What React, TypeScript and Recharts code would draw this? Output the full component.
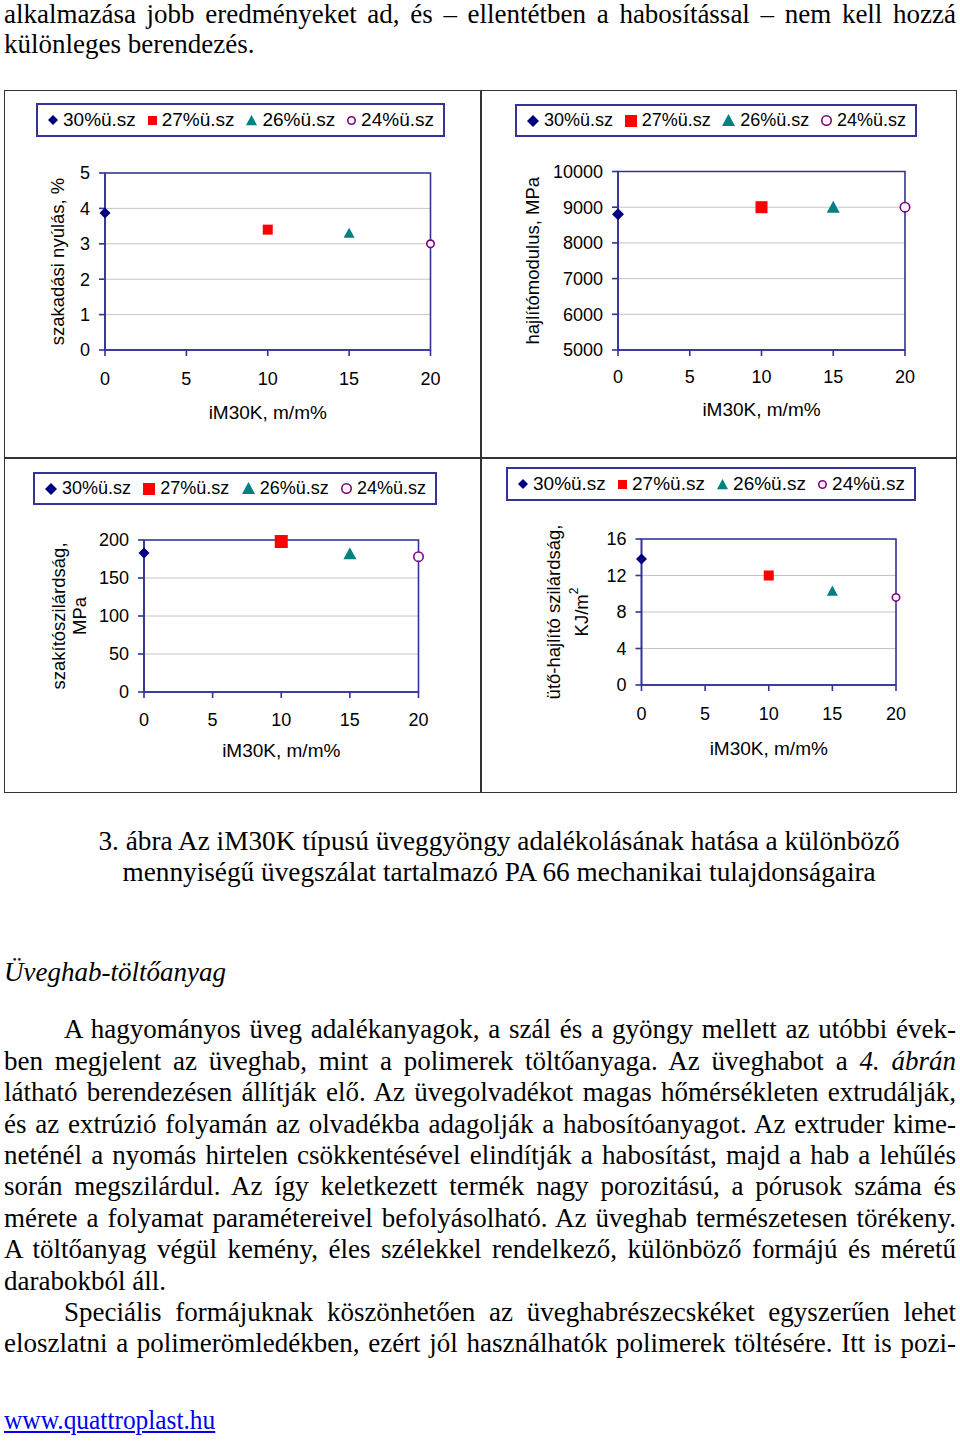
import React from 'react';
import { ScatterChart, Scatter, XAxis, YAxis, CartesianGrid, ReferenceArea, Legend } from 'recharts';

// series (glass fibre content) and iM30K bead content
const seriesNames = ['30%ü.sz', '27%ü.sz', '26%ü.sz', '24%ü.sz'];
const seriesColors = ['#000080', '#ff0000', '#008080', '#800080'];
const seriesShapes = ['diamond', 'square', 'triangle', 'circle'];
const iM30K = [0, 10, 15, 20];
const xTicks = [0, 5, 10, 15, 20];

// measured properties
const elongation = [3.87, 3.4, 3.3, 3.0];
const elongationTicks = [0, 1, 2, 3, 4, 5];
const flexModulus = [8800, 9000, 9000, 9000];
const flexTicks = [5000, 6000, 7000, 8000, 9000, 10000];
const tensile = [183, 198, 182, 178];
const tensileTicks = [0, 50, 100, 150, 200];
const impact = [13.8, 12.0, 10.3, 9.6];
const impactTicks = [0, 4, 8, 12, 16];

const topLines = [
  'alkalmazása jobb eredményeket ad, és – ellentétben a habosítással – nem kell hozzá',
  'különleges berendezés.',
];
const captionLines = [
  '3. ábra Az iM30K típusú üveggyöngy adalékolásának hatása a különböző',
  'mennyiségű üvegszálat tartalmazó PA 66 mechanikai tulajdonságaira',
];
const heading = 'Üveghab-töltőanyag';
const paragraphLines = [
  'A hagyományos üveg adalékanyagok, a szál és a gyöngy mellett az utóbbi évek-',
  'ben megjelent az üveghab, mint a polimerek töltőanyaga. Az üveghabot a 4. ábrán',
  'látható berendezésen állítják elő. Az üvegolvadékot magas hőmérsékleten extrudálják,',
  'és az extrúzió folyamán az olvadékba adagolják a habosítóanyagot. Az extruder kime-',
  'neténél a nyomás hirtelen csökkentésével elindítják a habosítást, majd a hab a lehűlés',
  'során megszilárdul. Az így keletkezett termék nagy porozitású, a pórusok száma és',
  'mérete a folyamat paramétereivel befolyásolható. Az üveghab természetesen törékeny.',
  'A töltőanyag végül kemény, éles szélekkel rendelkező, különböző formájú és méretű',
  'darabokból áll.',
  'Speciális formájuknak köszönhetően az üveghabrészecskéket egyszerűen lehet',
  'eloszlatni a polimerömledékben, ezért jól használhatók polimerek töltésére. Itt is pozi-',
];
const linkText = 'www.quattroplast.hu';

const AXIS = '#333399';
const SANS = '"Liberation Sans", Arial, sans-serif';
const SERIF = '"Liberation Serif", "Times New Roman", serif';
const Y_W = 60;
const X_H = 80;

function Marker({ kind, cx, cy, size, color }: any) {
  const h = size / 2;
  if (kind === 'diamond')
    return <polygon points={`${cx},${cy - h} ${cx + h},${cy} ${cx},${cy + h} ${cx - h},${cy}`} fill={color} />;
  if (kind === 'square') return <rect x={cx - h} y={cy - h} width={size} height={size} fill={color} />;
  if (kind === 'triangle')
    return <polygon points={`${cx},${cy - h} ${cx + h},${cy + h * 0.85} ${cx - h},${cy + h * 0.85}`} fill={color} />;
  return <circle cx={cx} cy={cy} r={h - 0.8} fill="#fff" stroke={color} strokeWidth={1.6} />;
}

interface PanelProps {
  values: number[];
  yTicks: number[];
  yTitle: { text: string; sup?: string; dx: number }[];
  box: { x: number; y: number; w: number; h: number };
  plot: { l: number; r: number; t: number; b: number };
  legend: { x: number; y: number; w: number; h: number; font: number; sym: number[] };
  marks: number[];
  xTickMargin: number;
  xTitleDy: number;
}

function Panel({ values, yTicks, yTitle, box, plot, legend, marks, xTickMargin, xTitleDy }: PanelProps) {
  const margin = {
    left: plot.l - box.x - Y_W,
    right: box.w - (plot.r - box.x),
    top: plot.t - box.y - legend.h,
    bottom: box.h - (plot.b - box.y) - X_H,
  };

  const renderLegend = () => (
    <div
      style={{
        boxSizing: 'border-box', width: legend.w, height: legend.h, border: `2px solid ${AXIS}`,
        display: 'flex', alignItems: 'center', justifyContent: 'space-between', padding: '0 9px',
        fontFamily: SANS, fontSize: legend.font, color: '#000', background: '#fff',
      }}
    >
      {seriesNames.map((name, i) => (
        <span key={name} style={{ display: 'flex', alignItems: 'center', gap: 4 }}>
          <svg width={legend.sym[i] + 2} height={legend.sym[i] + 2}>
            <Marker kind={seriesShapes[i]} cx={legend.sym[i] / 2 + 1} cy={legend.sym[i] / 2 + 1} size={legend.sym[i]} color={seriesColors[i]} />
          </svg>
          {name}
        </span>
      ))}
    </div>
  );

  const yLabel = (props: any) => {
    const vb = props.viewBox || {};
    const left = vb.x + vb.width;
    const cy = vb.y + vb.height / 2;
    return (
      <g>
        {yTitle.map((ln) => {
          const x = left + ln.dx;
          return (
            <text key={ln.text} x={x} y={cy} transform={`rotate(-90 ${x} ${cy})`} textAnchor="middle"
              dominantBaseline="central" fontFamily={SANS} fontSize={18.5} fill="#000">
              {ln.text}
              {ln.sup ? <tspan dy={-8} fontSize={12}>{ln.sup}</tspan> : null}
            </text>
          );
        })}
      </g>
    );
  };

  const xLabel = (props: any) => {
    const vb = props.viewBox || {};
    return (
      <text x={vb.x + vb.width / 2} y={vb.y + xTitleDy} textAnchor="middle" dominantBaseline="central"
        fontFamily={SANS} fontSize={19} fill="#000">
        iM30K, m/m%
      </text>
    );
  };

  const yMin = yTicks[0];
  const yMax = yTicks[yTicks.length - 1];

  return (
    <div style={{ position: 'absolute', left: box.x, top: box.y }}>
      <ScatterChart width={box.w} height={box.h} margin={margin}>
        <CartesianGrid vertical={false} stroke="#c4c4c4" strokeWidth={1} />
        <ReferenceArea x1={0} x2={20} y1={yMin} y2={yMax} fill="none" stroke={AXIS} strokeWidth={1.6} ifOverflow="visible" />
        <XAxis type="number" dataKey="x" domain={[0, 20]} ticks={xTicks} interval={0} height={X_H}
          axisLine={{ stroke: AXIS, strokeWidth: 1.6 }} tickLine={{ stroke: AXIS, strokeWidth: 1.6 }}
          tickSize={6} tickMargin={xTickMargin} tick={{ fill: '#000', fontSize: 18, fontFamily: SANS }}
          label={xLabel} />
        <YAxis type="number" dataKey="y" domain={[yMin, yMax]} ticks={yTicks} interval={0} width={Y_W}
          axisLine={{ stroke: AXIS, strokeWidth: 1.6 }} tickLine={{ stroke: AXIS, strokeWidth: 1.6 }}
          tickSize={6} tickMargin={9} tick={{ fill: '#000', fontSize: 18, fontFamily: SANS }}
          label={yLabel} />
        <Legend verticalAlign="top" align="left" content={renderLegend}
          wrapperStyle={{ left: legend.x - box.x, top: legend.y - box.y, width: legend.w, height: legend.h }} />
        {seriesNames.map((name, i) => (
          <Scatter key={name} name={name} data={[{ x: iM30K[i], y: values[i] }]} isAnimationActive={false}
            shape={(p: any) => <Marker kind={seriesShapes[i]} cx={p.cx} cy={p.cy} size={marks[i]} color={seriesColors[i]} />} />
        ))}
      </ScatterChart>
    </div>
  );
}

function Line({ text, baseline, left = 4, width = 952, align = 'justify', italic = false, squeeze = 1 }: any) {
  let content: any = text;
  if (text.includes('4. ábrán')) {
    const [a] = text.split('4. ábrán');
    content = <>{a}<i>4. ábrán</i></>;
  }
  const w = width / squeeze;
  const shift = align === 'center' ? (width - w) / 2 : 0;
  return (
    <div
      style={{
        position: 'absolute', left: left + shift, top: baseline - 22.6, width: w, height: 27, lineHeight: '27px',
        fontFamily: SERIF, fontSize: 27, color: '#000', fontStyle: italic ? 'italic' : 'normal',
        textAlign: align, textAlignLast: align, whiteSpace: align === 'justify' ? 'normal' : 'nowrap',
        transform: `scaleX(${squeeze})`, transformOrigin: align === 'center' ? 'center' : 'left',
      }}
    >
      {content}
    </div>
  );
}

export default function App() {
  const paraIndent = [60, 0, 0, 0, 0, 0, 0, 0, 0, 60, 0];
  return (
    <div style={{ position: 'absolute', left: 0, top: 0, width: 960, height: 1444, background: '#fff', overflow: 'hidden' }}>
      <Line text={topLines[0]} baseline={24} />
      <Line text={topLines[1]} baseline={54} align="left" />

      {/* figure frame */}
      <div style={{ position: 'absolute', left: 4, top: 90, width: 953, height: 703, boxSizing: 'border-box', border: '1.5px solid #333' }} />
      <div style={{ position: 'absolute', left: 480, top: 90, width: 1.5, height: 703, background: '#333' }} />
      <div style={{ position: 'absolute', left: 4, top: 457, width: 953, height: 1.5, background: '#333' }} />

      <Panel values={elongation} yTicks={elongationTicks}
        yTitle={[{ text: 'szakadási nyúlás, %', dx: -48 }]}
        box={{ x: 6, y: 92, w: 472, h: 364 }} plot={{ l: 105, r: 430.5, t: 173, b: 350 }}
        legend={{ x: 36, y: 103, w: 409, h: 34, font: 19, sym: [10, 9, 11, 9] }}
        marks={[11, 10, 11, 9]} xTickMargin={16} xTitleDy={62} />
      <Panel values={flexModulus} yTicks={flexTicks}
        yTitle={[{ text: 'hajlítómodulus, MPa', dx: -86 }]}
        box={{ x: 483, y: 92, w: 472, h: 364 }} plot={{ l: 618, r: 905, t: 171.5, b: 350 }}
        legend={{ x: 515, y: 104, w: 402, h: 33, font: 18, sym: [12, 12, 13, 11] }}
        marks={[12, 12, 13, 11]} xTickMargin={14} xTitleDy={59} />
      <Panel values={tensile} yTicks={tensileTicks}
        yTitle={[{ text: 'szakítószilárdság,', dx: -86 }, { text: 'MPa', dx: -65 }]}
        box={{ x: 6, y: 459, w: 472, h: 332 }} plot={{ l: 144, r: 418.5, t: 540, b: 692 }}
        legend={{ x: 33, y: 472, w: 404, h: 33, font: 18, sym: [12, 12, 13, 11] }}
        marks={[11, 13, 13, 11]} xTickMargin={15} xTitleDy={58} />
      <Panel values={impact} yTicks={impactTicks}
        yTitle={[{ text: 'ütő-hajlító szilárdság,', dx: -88 }, { text: 'KJ/m', sup: '2', dx: -60 }]}
        box={{ x: 483, y: 459, w: 472, h: 332 }} plot={{ l: 641.5, r: 896, t: 539, b: 685 }}
        legend={{ x: 506, y: 467, w: 410, h: 34, font: 19, sym: [10, 9, 11, 9] }}
        marks={[11, 10, 11, 9]} xTickMargin={16} xTitleDy={63} />

      <Line text={captionLines[0]} baseline={851} left={0} width={998} align="center" squeeze={1.01} />
      <Line text={captionLines[1]} baseline={882} left={0} width={998} align="center" squeeze={1.01} />
      <Line text={heading} baseline={982} align="left" italic />
      {paragraphLines.map((t, i) => (
        <Line key={i} text={t} baseline={1039 + i * 31.4} left={4 + paraIndent[i]} width={952 - paraIndent[i]}
          align={i === 8 ? 'left' : 'justify'} />
      ))}
      <a href="#" style={{ position: 'absolute', left: 4, top: 1430 - 22.6, lineHeight: '27px', fontFamily: SERIF, fontSize: 27, color: '#0000ee', textDecoration: 'underline', whiteSpace: 'nowrap', transform: 'scaleX(0.94)', transformOrigin: 'left' }}>
        {linkText}
      </a>
    </div>
  );
}
